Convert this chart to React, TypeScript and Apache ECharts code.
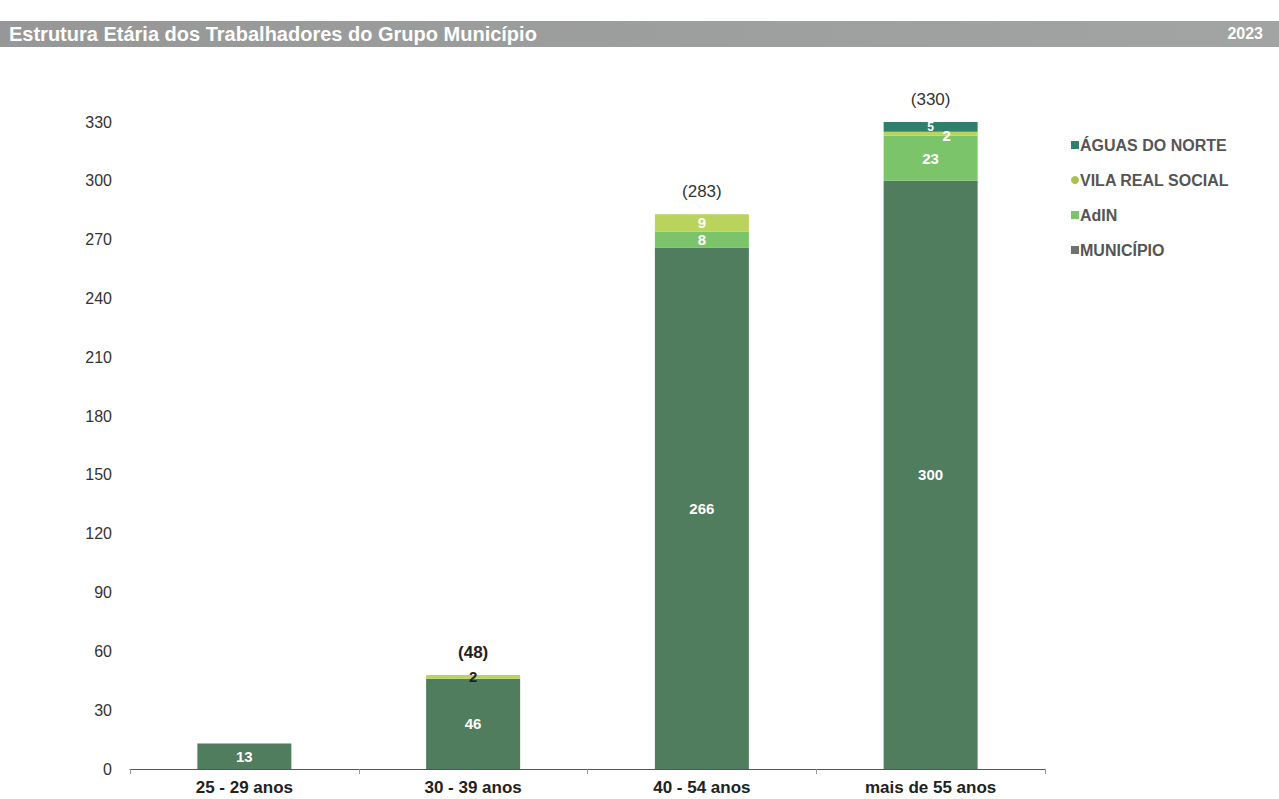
import React, { useEffect, useRef } from "react";
import * as echarts from "echarts";

const categories = ["25 - 29 anos", "30 - 39 anos", "40 - 54 anos", "mais de 55 anos"];
const municipio = [13, 46, 266, 300];
const adin = [0, 0, 8, 23];
const vilaRealSocial = [0, 2, 9, 2];
const aguasDoNorte = [0, 0, 0, 5];
const yTicks = [0, 30, 60, 90, 120, 150, 180, 210, 240, 270, 300, 330];

const C_MUN = "#4f7d5e";
const C_ADIN = "#7cc46a";
const C_VRS = "#b9d35c";
const C_AGUAS = "#2f7f6c";
const FONT = "Liberation Sans, Arial, sans-serif";

export default function App() {
  const ref = useRef<HTMLDivElement>(null);

  useEffect(() => {
    if (!ref.current) return;
    const chart = echarts.init(ref.current, undefined, { renderer: "svg" });
    const totals = categories.map(
      (_, i) => municipio[i] + adin[i] + vilaRealSocial[i] + aguasDoNorte[i]
    );
    const inside = {
      show: true,
      position: "inside",
      color: "#ffffff",
      fontWeight: "bold",
      fontSize: 15,
      fontFamily: FONT,
      formatter: (p: any) => (p.value > 0 ? String(p.value) : ""),
    };
    chart.setOption({
      animation: false,
      backgroundColor: "#ffffff",
      textStyle: { fontFamily: FONT },
      graphic: [
        {
          type: "rect",
          shape: { x: 0, y: 21, width: 1279, height: 26 },
          style: {
            fill: new echarts.graphic.LinearGradient(0, 0, 1, 0, [
              { offset: 0, color: "#979797" },
              { offset: 1, color: "#a2a4a4" },
            ]),
          },
        },
        {
          type: "text",
          x: 9,
          y: 34,
          style: {
            text: "Estrutura Etária dos Trabalhadores do Grupo Município",
            fill: "#ffffff",
            font: "bold 20px " + FONT,
            verticalAlign: "middle",
          },
        },
        {
          type: "text",
          x: 1263,
          y: 33,
          style: {
            text: "2023",
            fill: "#ffffff",
            font: "bold 16px " + FONT,
            align: "right",
            verticalAlign: "middle",
          },
        },
      ],
      legend: {
        orient: "vertical",
        left: 1066,
        top: 132,
        itemGap: 19,
        itemWidth: 8,
        itemHeight: 8,
        icon: "rect",
        textStyle: { color: "#555555", fontWeight: "bold", fontSize: 16, padding: [0, 0, 0, -4] },
        data: [
          { name: "ÁGUAS DO NORTE", itemStyle: { color: C_AGUAS } },
          { name: "VILA REAL SOCIAL", icon: "circle", itemStyle: { color: "#a9c24e" } },
          { name: "AdIN", itemStyle: { color: C_ADIN } },
          { name: "MUNICÍPIO", itemStyle: { color: "#707070" } },
        ],
      },
      grid: { left: 130, right: 234, top: 122, bottom: 30 },
      xAxis: {
        type: "category",
        data: categories,
        axisLine: { lineStyle: { color: "#555555" } },
        axisTick: { show: true, length: 5, lineStyle: { color: "#999999" } },
        axisLabel: { color: "#222222", fontWeight: "bold", fontSize: 17, margin: 10 },
      },
      yAxis: {
        type: "value",
        min: yTicks[0],
        max: yTicks[yTicks.length - 1],
        interval: 30,
        splitLine: { show: false },
        axisLine: { show: false },
        axisTick: { show: false },
        axisLabel: { color: "#333333", fontSize: 16, margin: 18 },
      },
      series: [
        {
          name: "MUNICÍPIO",
          type: "bar",
          stack: "total",
          barWidth: 94,
          itemStyle: { color: C_MUN },
          label: inside,
          data: municipio,
        },
        {
          name: "AdIN",
          type: "bar",
          stack: "total",
          itemStyle: { color: C_ADIN },
          label: inside,
          data: adin,
        },
        {
          name: "VILA REAL SOCIAL",
          type: "bar",
          stack: "total",
          itemStyle: { color: C_VRS },
          label: inside,
          data: vilaRealSocial.map((v, i) =>
            i === 1
              ? { value: v, label: { color: "#222222", position: "inside" } }
              : i === 3
              ? { value: v, label: { offset: [16, 2] } }
              : v
          ),
        },
        {
          name: "ÁGUAS DO NORTE",
          type: "bar",
          stack: "total",
          itemStyle: { color: C_AGUAS },
          label: { ...inside, fontSize: 12 },
          data: aguasDoNorte,
        },
        {
          name: "Total",
          type: "bar",
          stack: "total",
          data: totals.map((_, i) =>
            i === 1 ? { value: 0, label: { fontWeight: "bold", color: "#222222" } } : 0
          ),
          itemStyle: { color: "transparent" },
          label: {
            show: true,
            position: "top",
            distance: 14,
            fontSize: 17,
            color: "#333333",
            formatter: (p: any) => (p.dataIndex === 0 ? "" : "(" + totals[p.dataIndex] + ")"),
          },
          tooltip: { show: false },
        },
      ],
    });
    return () => chart.dispose();
  }, []);

  return (
    <div
      ref={ref}
      style={{ position: "fixed", left: 0, top: 0, width: 1279, height: 799 }}
    />
  );
}
